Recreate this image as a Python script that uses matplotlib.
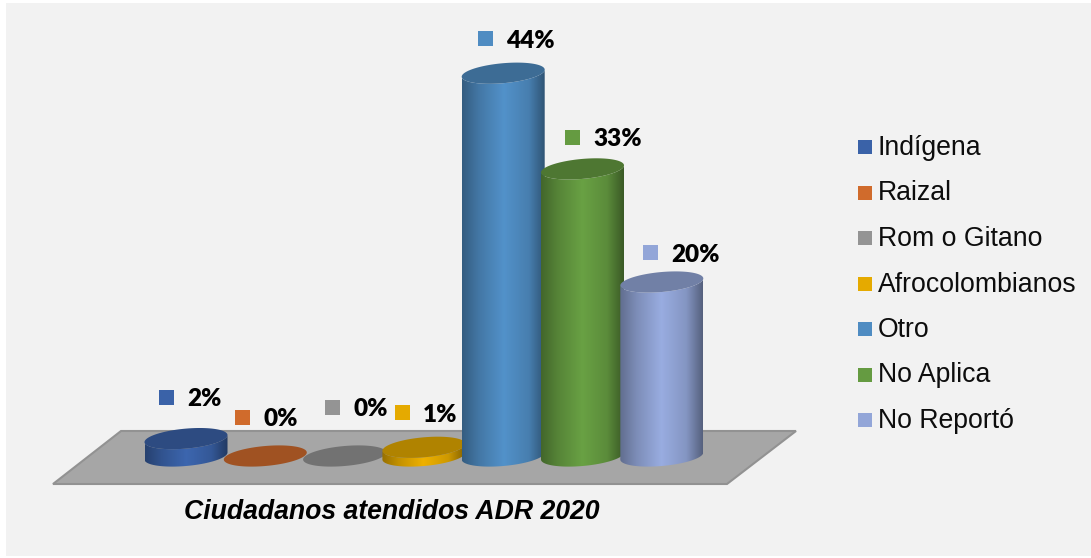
import matplotlib
matplotlib.use('Agg')
import matplotlib.pyplot as plt
import numpy as np
from matplotlib.colors import LinearSegmentedColormap, to_rgb
from matplotlib.patches import Polygon, Rectangle

categories = ['Indígena', 'Raizal', 'Rom o Gitano', 'Afrocolombianos', 'Otro', 'No Aplica', 'No Reportó']
values = [2, 0, 0, 1, 44, 33, 20]
colors = ['#3a62a8', '#d06b2c', '#949494', '#e5aa00', '#4f8cc2', '#659b41', '#93a6d8']
title = 'Ciudadanos atendidos ADR 2020'

W, H = 1091, 558
X0, DX = 186.0, 79.3    # pixel position of the first cylinder, spacing
Y0, DY = 456.0, 8.7     # pixel position of 0 %, pixels per 1 %
A_PX, B_PX = 41.5, 10.0  # ellipse half axes
SHEAR = 0.085

# label anchor of the small square for each category
label_pos = [(166, 397), (242, 417), (332, 407), (402, 412), (485, 38), (572, 137), (650, 252)]

plt.rcParams['font.family'] = ['Liberation Sans', 'DejaVu Sans']

fig = plt.figure(figsize=(W / 100, H / 100), dpi=100, facecolor='white')

# pixel-space layer for panel, floor, legend and text
bg = fig.add_axes([0, 0, 1, 1])
bg.set_xlim(0, W)
bg.set_ylim(H, 0)
bg.axis('off')
bg.add_patch(Rectangle((6, 3), W - 6, H - 5, fc='#f2f2f2', ec='none', zorder=0))
bg.add_patch(Polygon([(121, 431), (796, 431), (727, 484), (53, 484)], closed=True,
                     fc='#a6a6a6', ec='#929292', lw=1.5, zorder=1))

# chart axes: x is category index, y is percent
ax = fig.add_axes([0, 0, 1, 1], zorder=2)
ax.set_xlim((0 - X0) / DX, (W - X0) / DX)
ax.set_ylim((Y0 - H) / DY, Y0 / DY)
ax.axis('off')
ax.patch.set_alpha(0)
ax.set_autoscale_on(False)


def ellipse(cx, v, t):
    # sheared ellipse, right side sits higher than the left
    dx = A_PX * np.cos(t)
    dy = B_PX * np.sin(t) + SHEAR * dx
    return cx + dx / DX, v + dy / DY


def shade(color, k):
    return tuple(c * k for c in to_rgb(color))


for i, (v, c) in enumerate(zip(values, colors)):
    if v > 0:
        # body: top half-edge straight down to the lower arc of the base
        t = np.linspace(np.pi, 2 * np.pi, 80)
        bx, by = ellipse(i, 0, t)
        tx, ty = ellipse(i, v, t[::-1])
        body = Polygon(np.column_stack([np.r_[bx, tx], np.r_[by, ty]]), closed=True,
                       transform=ax.transData, fc='none', ec='none')
        ax.add_patch(body)
        body.set_zorder(3 + i)
        cmap = LinearSegmentedColormap.from_list('c', [
            (0.0, shade(c, 0.66)), (0.2, shade(c, 0.85)), (0.5, shade(c, 1.04)),
            (0.8, shade(c, 0.90)), (1.0, shade(c, 0.58))])
        im = ax.imshow(np.linspace(0, 1, 256)[None, :], cmap=cmap, aspect='auto', zorder=3 + i,
                       extent=(i - A_PX / DX, i + A_PX / DX, -2, v + 2),
                       interpolation='bilinear')
        im.set_clip_path(body)
    # top face
    ex, ey = ellipse(i, v, np.linspace(0, 2 * np.pi, 160))
    ax.fill(ex, ey, color=shade(c, 0.77), lw=0, zorder=3.5 + i)

# data labels with a colored square key
for (sx, sy), v, c in zip(label_pos, values, colors):
    bg.add_patch(Rectangle((sx - 7.5, sy - 7.5), 15, 15, fc=c, ec='none', zorder=5))
    bg.text(sx + 21, sy + 9.5, f'{v}%', family=['Lato', 'DejaVu Sans'], fontweight='heavy',
            fontsize=17.5, color='#000000', va='baseline', ha='left', zorder=5)

# legend
for n, (name, c) in enumerate(zip(categories, colors)):
    y = 147 + n * 45.5
    bg.add_patch(Rectangle((858, y - 7), 14, 14, fc=c, ec='none', zorder=5))
    bg.text(878, y + 8, name, fontsize=19.2, color='#0d0d0d', va='baseline', ha='left', zorder=5)

bg.text(392, 519, title, fontsize=19.2, fontweight='bold', fontstyle='italic',
        color='#000000', va='baseline', ha='center', zorder=5)

fig.savefig('out.png', dpi=100)
